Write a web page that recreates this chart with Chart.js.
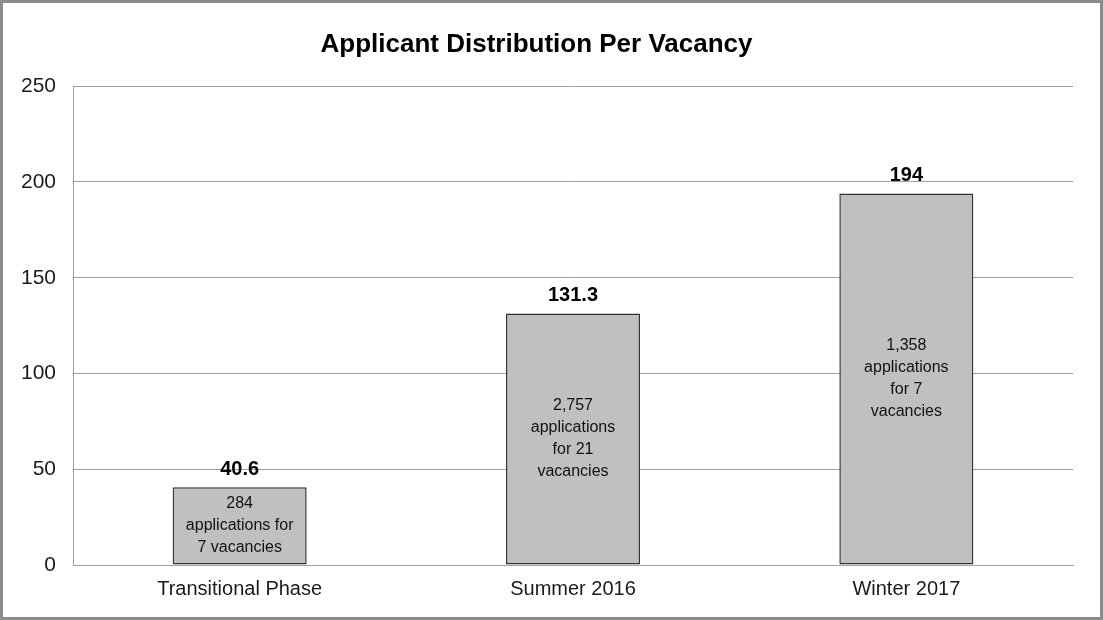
<!DOCTYPE html>
<html>
<head>
<meta charset="utf-8">
<title>Applicant Distribution Per Vacancy</title>
<script src="https://cdn.jsdelivr.net/npm/chart.js@4/dist/chart.umd.min.js"></script>
<style>
  html, body { margin: 0; padding: 0; background: #fff; }
  #chart { display: block; }
</style>
</head>
<body>
<canvas id="chart" width="1103" height="620"></canvas>
<script>
// Applicants per vacancy, by recruitment round
const categories = ['Transitional Phase', 'Summer 2016', 'Winter 2017'];
const perVacancy = [40.6, 131.3, 194];
const valueLabels = ['40.6', '131.3', '194'];
const barNotes = [
    ['284', 'applications for', '7 vacancies'],
    ['2,757', 'applications', 'for 21', 'vacancies'],
    ['1,358', 'applications', 'for 7', 'vacancies']
];
const yTicks = [0, 50, 100, 150, 200, 250];

const FONT = "'Liberation Sans', Arial, sans-serif";

// outer frame round the whole chart
const framePlugin = {
    id: 'frame',
    afterDraw(chart) {
        const ctx = chart.ctx;
        ctx.save();
        ctx.strokeStyle = '#8c8c8c';
        ctx.lineWidth = 3;
        ctx.strokeRect(1.5, 1.5, chart.width - 3, chart.height - 3);
        ctx.restore();
    }
};

// value above each bar and the note inside it
const labelPlugin = {
    id: 'barLabels',
    afterDatasetsDraw(chart) {
        const ctx = chart.ctx;
        const meta = chart.getDatasetMeta(0);
        ctx.save();
        ctx.fillStyle = '#000';
        ctx.textAlign = 'center';
        meta.data.forEach(function(bar, i) {
            ctx.font = 'bold 20px ' + FONT;
            ctx.textBaseline = 'bottom';
            ctx.fillText(valueLabels[i], bar.x, bar.y - 8);

            const lines = barNotes[i];
            const lh = 22;
            const mid = (bar.y + bar.base) / 2;
            ctx.fillStyle = '#111';
            ctx.font = '16px ' + FONT;
            ctx.textBaseline = 'middle';
            lines.forEach(function(line, j) {
                ctx.fillText(line, bar.x, mid + (j - (lines.length - 1) / 2) * lh);
            });
            ctx.fillStyle = '#000';
        });
        ctx.restore();
    }
};

new Chart(document.getElementById('chart').getContext('2d'), {
    type: 'bar',
    data: {
        labels: categories,
        datasets: [{
            data: perVacancy,
            backgroundColor: '#c0c0c0',
            borderColor: '#333333',
            borderWidth: 1.5,
            borderSkipped: false,
            categoryPercentage: 1,
            barPercentage: 0.402
        }]
    },
    options: {
        responsive: false,
        animation: false,
        layout: { padding: { left: 0, right: 30, top: 0, bottom: 0 } },
        plugins: {
            legend: { display: false },
            tooltip: { enabled: false },
            title: {
                display: true,
                text: 'Applicant Distribution Per Vacancy',
                color: '#000',
                font: { family: FONT, size: 26, weight: 'bold' },
                padding: { top: 29, bottom: 26 }
            }
        },
        scales: {
            x: {
                grid: { display: false, drawTicks: false },
                border: { display: true, color: '#a0a0a0' },
                ticks: {
                    color: '#1a1a1a',
                    font: { family: FONT, size: 20 },
                    padding: 12
                },
                afterFit(scale) { scale.height = 55; }
            },
            y: {
                min: 0,
                max: 250,
                afterBuildTicks(scale) {
                    scale.ticks = yTicks.map(v => ({ value: v }));
                },
                grid: { color: '#a0a0a0', lineWidth: 1, drawTicks: false },
                border: { display: true, color: '#a0a0a0' },
                ticks: {
                    color: '#1a1a1a',
                    font: { family: FONT, size: 21 },
                    padding: 17
                },
                afterFit(scale) { scale.width = 73; }
            }
        }
    },
    plugins: [framePlugin, labelPlugin]
});
</script>
</body>
</html>
